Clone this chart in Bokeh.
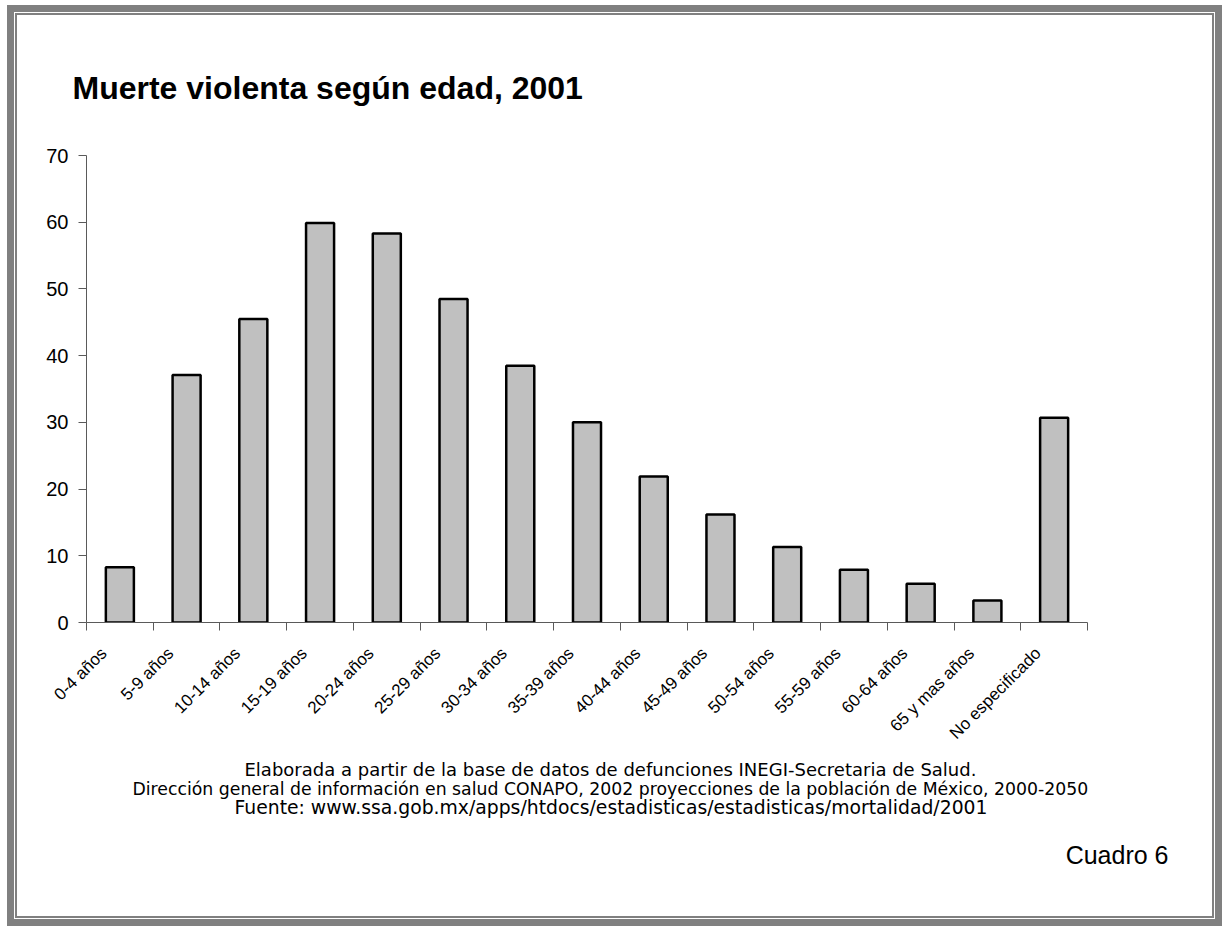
import math

from bokeh.embed import file_html
from bokeh.models import FixedTicker, Range1d, Title
from bokeh.plotting import figure
from bokeh.resources import INLINE

# Deaths by violence per age group, 2001
categories = [
    "0-4 años", "5-9 años", "10-14 años", "15-19 años", "20-24 años",
    "25-29 años", "30-34 años", "35-39 años", "40-44 años", "45-49 años",
    "50-54 años", "55-59 años", "60-64 años", "65 y mas años", "No especificado",
]
values = [8.3, 37.1, 45.5, 59.9, 58.3, 48.5, 38.5, 30.0, 21.9, 16.2, 11.3, 7.9, 5.8, 3.3, 30.7]
y_ticks = [0, 10, 20, 30, 40, 50, 60, 70]

title_text = "Muerte violenta según edad, 2001"
source_lines = [
    "Elaborada a partir de la base de datos de defunciones INEGI-Secretaria de Salud.",
    "Dirección general de información en salud CONAPO, 2002 proyecciones de la población de México, 2000-2050",
    "Fuente: www.ssa.gob.mx/apps/htdocs/estadisticas/estadisticas/mortalidad/2001",
]
table_label = "Cuadro 6"

# the drawing surface spans the host including its 7px border
W, H = 1201, 907
LEFT, RIGHT, TOP, BOTTOM = 72, 142, 143, 311

n = len(categories)
centers = [i + 0.5 for i in range(n)]
# rotated labels end a little left of each category centre
label_pos = [c - 0.24 for c in centers]

p = figure(
    width=W, height=H,
    x_range=Range1d(0, n), y_range=Range1d(0, 70),
    output_backend="svg", toolbar_location=None,
    min_border_left=LEFT, min_border_right=RIGHT,
    min_border_top=TOP, min_border_bottom=BOTTOM,
)
p.styles = {
    "box-sizing": "content-box",
    "border": "7px solid #808080",
    "margin-left": "7px",
    "margin-top": "5px",
    "position": "relative",
}
# thin inner rule of the page frame
p.stylesheets = [
    ":host::after { content: ''; position: absolute; left: 1px; top: 1px; right: 1px; bottom: 1px;"
    " border: 2px solid #808080; z-index: 1000; pointer-events: none; }"
]
p.outline_line_color = None
p.xgrid.visible = False
p.ygrid.visible = False
p.background_fill_color = "white"
p.border_fill_color = "white"

p.vbar(x=centers, top=values, width=0.42, bottom=0,
       fill_color="#c0c0c0", line_color="black", line_width=2.5)

axis_color = "#5a5a5a"

xa = p.xaxis[0]
xa.ticker = FixedTicker(ticks=label_pos, minor_ticks=list(range(n + 1)))
xa.major_label_overrides = {c: lab for c, lab in zip(label_pos, categories)}
xa.major_tick_out = 0
xa.major_tick_in = 0
xa.minor_tick_out = 8
xa.minor_tick_in = 0
xa.minor_tick_line_color = axis_color
xa.axis_line_color = axis_color
xa.major_label_orientation = math.pi / 4
xa.major_label_standoff = 20
xa.major_label_text_font = "Liberation Sans"
xa.major_label_text_font_size = "17px"
xa.major_label_text_color = "black"

ya = p.yaxis[0]
ya.ticker = FixedTicker(ticks=y_ticks, minor_ticks=[])
ya.major_tick_out = 8
ya.major_tick_in = 0
ya.minor_tick_out = 0
ya.minor_tick_in = 0
ya.major_tick_line_color = axis_color
ya.axis_line_color = axis_color
ya.major_label_standoff = 10
ya.major_label_text_font = "Liberation Sans"
ya.major_label_text_font_size = "20px"
ya.major_label_text_color = "black"

# heading
p.title.text = title_text
p.title.align = "left"
p.title.offset = -14
p.title.standoff = 100
p.title.text_font = "Liberation Sans"
p.title.text_font_size = "32px"
p.title.text_font_style = "bold"
p.title.text_color = "black"

# source notes under the axis (each line centred on x ~ 610), then the table number
note_sizes = ["18px", "17.3px", "18.8px"]
note_offsets = [158, 46, 148]
note_gaps = [9, -16, 8]
for line, size, off, gap in zip(source_lines, note_sizes, note_offsets, note_gaps):
    p.add_layout(Title(
        text=line, align="left", offset=off, standoff=gap,
        text_font="DejaVu Sans", text_font_size=size,
        text_font_style="normal", text_color="black",
    ), "below")

p.add_layout(Title(
    text=table_label, align="right", offset=-81, standoff=34,
    text_font="Liberation Sans", text_font_size="25px",
    text_font_style="normal", text_color="black",
), "below")

open("out.html", "w").write(file_html(p, INLINE))
